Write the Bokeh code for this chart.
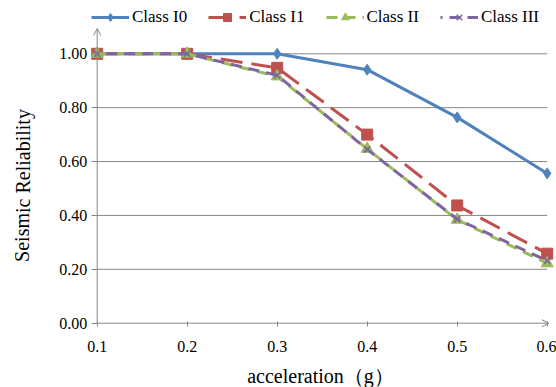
from bokeh.plotting import figure
from bokeh.models import (FixedTicker, NumeralTickFormatter, Legend, LegendItem,
                          Label, Arrow, OpenHead, Range1d)
from bokeh.embed import file_html
from bokeh.resources import INLINE

# ---- data ----
accel = [0.1, 0.2, 0.3, 0.4, 0.5, 0.6]
class_i0 = [1.00, 1.00, 1.00, 0.941, 0.764, 0.556]
class_i1 = [1.00, 1.00, 0.948, 0.700, 0.437, 0.258]
class_ii = [1.00, 1.00, 0.916, 0.647, 0.384, 0.222]
class_iii = [1.00, 1.00, 0.920, 0.645, 0.386, 0.232]
series_names = ["Class I0", "Class I1", "Class II", "Class III"]
y_ticks = [0.0, 0.2, 0.4, 0.6, 0.8, 1.0]
x_title = "acceleration（g）"
y_title = "Seismic Reliability"

FONT = "Liberation Serif"
AXIS_GRAY = "#868686"

p = figure(width=556, height=387, output_backend="svg", toolbar_location=None,
           x_range=Range1d(-0.00744, 0.61033), y_range=Range1d(-0.2387, 1.1978),
           min_border_left=0, min_border_right=0, min_border_top=0,
           min_border_bottom=0)
p.outline_line_color = None
p.grid.visible = False
p.background_fill_color = "white"
p.border_fill_color = "white"

# gridlines (horizontal only, from first to last category)
gy = y_ticks[1:]
p.segment(x0=[accel[0]] * len(gy), y0=gy, x1=[accel[-1]] * len(gy), y1=gy,
          line_color=AXIS_GRAY, line_width=1)

# axes, pinned to the data origin
p.yaxis.ticker = FixedTicker(ticks=y_ticks)
p.yaxis.formatter = NumeralTickFormatter(format="0.00")
p.yaxis.fixed_location = accel[0]
p.yaxis.major_tick_in = 0
p.yaxis.major_tick_out = 6
p.yaxis.major_label_standoff = 4

p.xaxis.ticker = FixedTicker(ticks=accel)
p.xaxis.formatter = NumeralTickFormatter(format="0.0")
p.xaxis.fixed_location = y_ticks[0]
p.xaxis.major_tick_in = 2
p.xaxis.major_tick_out = 3
p.xaxis.major_label_standoff = 15

for ax in (p.xaxis, p.yaxis):
    ax.axis_line_color = None
    ax.major_tick_line_color = AXIS_GRAY
    ax.minor_tick_line_color = None
    ax.major_label_text_font = FONT
    ax.major_label_text_font_size = "16px"
    ax.major_label_text_color = "#000000"

# axis lines with arrow heads
p.add_layout(Arrow(end=OpenHead(size=7, line_color=AXIS_GRAY, line_width=1),
                   x_start=accel[0], y_start=y_ticks[0], x_end=accel[0], y_end=1.094,
                   line_color=AXIS_GRAY, line_width=1))
p.add_layout(Arrow(end=OpenHead(size=7, line_color=AXIS_GRAY, line_width=1),
                   x_start=accel[0], y_start=y_ticks[0], x_end=0.6018, y_end=y_ticks[0],
                   line_color=AXIS_GRAY, line_width=1))

# series
l0 = p.line(accel, class_i0, line_color="#4F81BD", line_width=3)
m0 = p.scatter(accel, class_i0, marker="diamond", size=11, fill_color="#4F81BD",
               line_color="#4F81BD")
l1 = p.line(accel, class_i1, line_color="#C0504D", line_width=3, line_dash="22 9")
m1 = p.scatter(accel, class_i1, marker="square", size=11, fill_color="#C0504D",
               line_color="#C0504D")
l2 = p.line(accel, class_ii, line_color="#9BBB59", line_width=3, line_dash="11 7")
m2 = p.scatter(accel, class_ii, marker="triangle", size=12, fill_color="#9BBB59",
               line_color="#9BBB59")
l3 = p.line(accel, class_iii, line_color="#8064A2", line_width=3, line_dash="11 7",
            line_dash_offset=9)
m3 = p.scatter(accel, class_iii, marker="x", size=9, line_color="#8064A2", line_width=1.5)

legend = Legend(items=[LegendItem(label=series_names[0], renderers=[l0, m0]),
                       LegendItem(label=series_names[1], renderers=[l1, m1]),
                       LegendItem(label=series_names[2], renderers=[l2, m2]),
                       LegendItem(label=series_names[3], renderers=[l3, m3])],
                orientation="horizontal", location=(91, 360),
                glyph_width=38, glyph_height=20, label_height=20,
                label_standoff=3, spacing=21, padding=0, margin=0,
                border_line_color=None, background_fill_alpha=0,
                label_text_font=FONT, label_text_font_size="17px",
                label_text_color="#000000")
p.add_layout(legend)

# axis titles
p.add_layout(Label(x=22, y=202, x_units="screen", y_units="screen", text=y_title,
                   angle=1.5707963, text_align="center", text_baseline="middle",
                   text_font=FONT, text_font_size="20px", text_color="#000000"))
p.add_layout(Label(x=320, y=12, x_units="screen", y_units="screen", text=x_title,
                   text_align="center", text_baseline="middle",
                   text_font=FONT, text_font_size="20px", text_color="#000000"))

open("out.html", "w").write(file_html(p, INLINE))
